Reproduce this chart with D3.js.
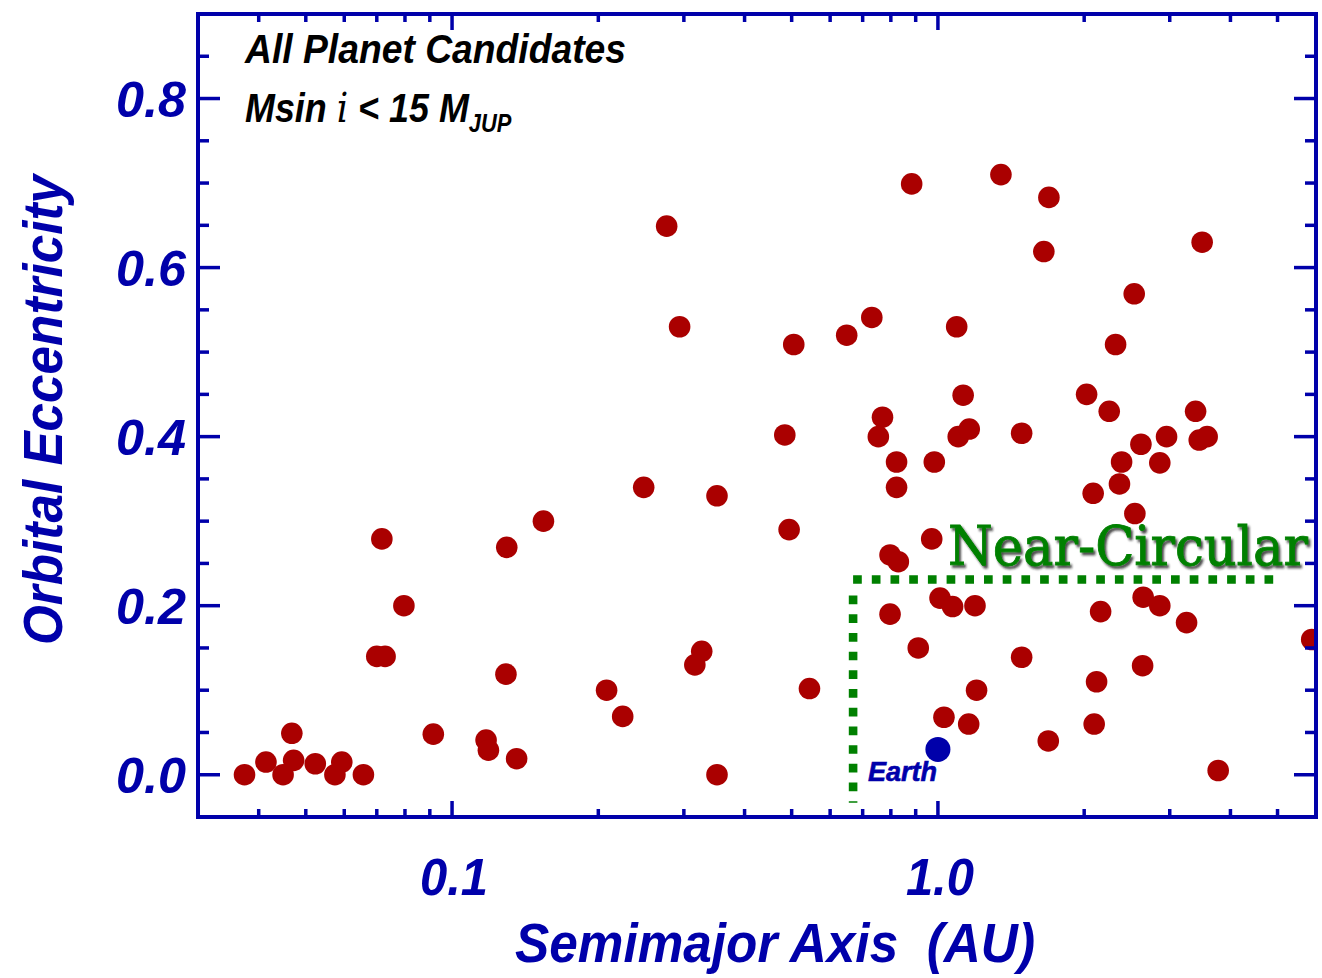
<!DOCTYPE html>
<html>
<head>
<meta charset="utf-8">
<script src="https://cdn.jsdelivr.net/npm/d3@7"></script>
<style>
  html, body { margin: 0; padding: 0; background: #ffffff; }
  svg { display: block; }
  text { font-family: "Liberation Sans", Arial, Helvetica, sans-serif; }
</style>
</head>
<body>
<svg id="chart" width="1322" height="978"></svg>
<script>
// Semimajor axis (AU) and orbital eccentricity of the planet candidates
const semimajorAxis = [
  0.0374, 0.0414, 0.0449, 0.0468, 0.0472, 0.0523, 0.0574, 0.0593, 0.0657,
  0.0717, 0.0700, 0.0728, 0.0796, 0.0915, 0.1175, 0.1188, 0.1296, 0.1291,
  0.1358, 0.1542, 0.208, 0.2245, 0.248, 0.2765, 0.294, 0.3265, 0.316,
  0.351, 0.351, 0.484, 0.494, 0.505, 0.544, 0.649, 0.731, 0.769, 0.754,
  0.797, 0.829, 0.822, 0.822, 0.797, 0.883, 0.911, 0.971, 0.983, 1.010,
  1.072, 1.029, 1.093, 1.127, 1.101, 1.160, 1.157, 1.192, 1.201, 1.348,
  1.487, 1.487, 1.652, 1.692, 1.687, 2.023, 2.087, 2.097, 2.121, 2.162,
  2.252, 2.321, 2.364, 2.388, 2.535, 2.543, 2.617, 2.645, 2.862, 2.638,
  2.862, 2.955, 3.249, 3.391, 3.498, 3.450, 3.582, 3.774, 5.88
];
const eccentricity = [
  0.000, 0.015, 0.000, 0.049, 0.017, 0.013, 0.000, 0.015, 0.000,
  0.279, 0.140, 0.140, 0.200, 0.048, 0.041, 0.029, 0.269, 0.119,
  0.019, 0.300, 0.100, 0.069, 0.340, 0.649, 0.530, 0.146, 0.130,
  0.330, 0.000, 0.402, 0.290, 0.509, 0.102, 0.520, 0.541, 0.423, 0.400,
  0.260, 0.252, 0.370, 0.340, 0.190, 0.699, 0.150, 0.279, 0.370, 0.209,
  0.199, 0.068, 0.530, 0.449, 0.400, 0.409, 0.060, 0.200, 0.100, 0.710,
  0.404, 0.139, 0.619, 0.683, 0.040, 0.450, 0.333, 0.060, 0.110, 0.193,
  0.430, 0.509, 0.344, 0.370, 0.569, 0.309, 0.391, 0.210, 0.200, 0.129,
  0.369, 0.400, 0.180, 0.430, 0.630, 0.396, 0.400, 0.005, 0.160
];

// Earth, for reference
const earthAxis = [1.0];
const earthEcc = [0.03];

// Axis ticks
const xMajorTicks = [0.1, 1.0];
const xTickLabels = ["0.1", "1.0"];
const xMinorTicks = [0.04, 0.05, 0.06, 0.07, 0.08, 0.09,
                     0.2, 0.3, 0.4, 0.5, 0.6, 0.7, 0.8, 0.9,
                     2, 3, 4, 5];
const yMajorTicks = [0.0, 0.2, 0.4, 0.6, 0.8];
const yTickLabels = ["0.0", "0.2", "0.4", "0.6", "0.8"];
const yMinorTicks = [0.05, 0.10, 0.15, 0.25, 0.30, 0.35, 0.45, 0.50, 0.55,
                     0.65, 0.70, 0.75, 0.85];

// "Near-Circular" region outline (AU, eccentricity)
const nearCircularAxis = [0.669, 5.13];
const nearCircularEcc = [0.231, 0.212, -0.033];

const svg = d3.select("#chart");
const frame = { left: 198, right: 1316, top: 14, bottom: 817 };

const x = d3.scaleLog().domain([0.03, 6]).range([frame.left, frame.right]);
const y = d3.scaleLinear().domain([-0.05, 0.9]).range([frame.bottom, frame.top]);

const axisBlue = "#0000aa";
const dotRed = "#aa0000";
const green = "#008000";

const defs = svg.append("defs");
defs.append("clipPath").attr("id", "plotClip")
  .append("rect")
  .attr("x", frame.left).attr("y", frame.top)
  .attr("width", frame.right - frame.left)
  .attr("height", frame.bottom - frame.top);

const shadow = defs.append("filter").attr("id", "labelShadow")
  .attr("x", "-3%").attr("y", "-15%").attr("width", "108%").attr("height", "140%");
shadow.append("feDropShadow")
  .attr("dx", 2).attr("dy", 2.5).attr("stdDeviation", 0.9)
  .attr("flood-color", "#1a1a1a").attr("flood-opacity", 0.8);

// Data points
const points = semimajorAxis.map((a, i) => ({ a, e: eccentricity[i] }));
const plot = svg.append("g").attr("clip-path", "url(#plotClip)");
plot.selectAll("circle.planet")
  .data(points)
  .join("circle")
  .attr("class", "planet")
  .attr("cx", d => x(d.a))
  .attr("cy", d => y(d.e))
  .attr("r", 10.8)
  .attr("fill", dotRed);

plot.selectAll("circle.earth")
  .data(earthAxis.map((a, i) => ({ a, e: earthEcc[i] })))
  .join("circle")
  .attr("class", "earth")
  .attr("cx", d => x(d.a))
  .attr("cy", d => y(d.e))
  .attr("r", 12.5)
  .attr("fill", axisBlue);

svg.append("text")
  .attr("x", x(earthAxis[0]) - 1)
  .attr("y", y(earthEcc[0]) + 32)
  .attr("text-anchor", "end")
  .attr("font-size", 27)
  .attr("font-weight", "bold")
  .attr("font-style", "italic")
  .attr("fill", axisBlue)
  .attr("stroke", axisBlue)
  .attr("stroke-width", 0.6)
  .attr("textLength", 69)
  .attr("lengthAdjust", "spacingAndGlyphs")
  .text("Earth");

// Frame
svg.append("rect")
  .attr("x", frame.left).attr("y", frame.top)
  .attr("width", frame.right - frame.left)
  .attr("height", frame.bottom - frame.top)
  .attr("fill", "none")
  .attr("stroke", axisBlue)
  .attr("stroke-width", 4);

// Inward ticks on all four sides
const tickG = svg.append("g").attr("stroke", axisBlue).attr("stroke-width", 3.5);
function xTicks(values, len) {
  values.forEach(v => {
    tickG.append("line").attr("x1", x(v)).attr("x2", x(v))
      .attr("y1", frame.bottom).attr("y2", frame.bottom - len);
    tickG.append("line").attr("x1", x(v)).attr("x2", x(v))
      .attr("y1", frame.top).attr("y2", frame.top + len);
  });
}
function yTicks(values, len) {
  values.forEach(v => {
    tickG.append("line").attr("y1", y(v)).attr("y2", y(v))
      .attr("x1", frame.left).attr("x2", frame.left + len);
    tickG.append("line").attr("y1", y(v)).attr("y2", y(v))
      .attr("x1", frame.right).attr("x2", frame.right - len);
  });
}
xTicks(xMajorTicks, 16);
xTicks(xMinorTicks, 8);
yTicks(yMajorTicks, 22);
yTicks(yMinorTicks, 11);

// Tick labels
svg.append("g").selectAll("text")
  .data(yMajorTicks)
  .join("text")
  .attr("x", 186)
  .attr("y", d => y(d) + 18)
  .attr("text-anchor", "end")
  .attr("font-size", 50)
  .attr("font-weight", "bold")
  .attr("font-style", "italic")
  .attr("fill", axisBlue)
  .attr("textLength", 70)
  .attr("lengthAdjust", "spacingAndGlyphs")
  .text((d, i) => yTickLabels[i]);

svg.append("g").selectAll("text")
  .data(xMajorTicks)
  .join("text")
  .attr("x", d => x(d) + 2)
  .attr("y", 895)
  .attr("text-anchor", "middle")
  .attr("font-size", 51)
  .attr("font-weight", "bold")
  .attr("font-style", "italic")
  .attr("fill", axisBlue)
  .attr("textLength", 68)
  .attr("lengthAdjust", "spacingAndGlyphs")
  .text((d, i) => xTickLabels[i]);

// Axis titles
svg.append("text")
  .attr("x", 775).attr("y", 962)
  .attr("text-anchor", "middle")
  .attr("font-size", 56)
  .attr("font-weight", "bold")
  .attr("font-style", "italic")
  .attr("fill", axisBlue)
  .attr("textLength", 520)
  .attr("lengthAdjust", "spacingAndGlyphs")
  .style("white-space", "pre")
  .text("Semimajor Axis  (AU)");

svg.append("text")
  .attr("transform", "translate(62,410) rotate(-90)")
  .attr("text-anchor", "middle")
  .attr("font-size", 56)
  .attr("font-weight", "bold")
  .attr("font-style", "italic")
  .attr("fill", axisBlue)
  .attr("textLength", 470)
  .attr("lengthAdjust", "spacingAndGlyphs")
  .text("Orbital Eccentricity");

// Sample description
svg.append("text")
  .attr("x", 245).attr("y", 63)
  .attr("font-size", 41)
  .attr("font-weight", "bold")
  .attr("font-style", "italic")
  .attr("fill", "#000")
  .attr("textLength", 381)
  .attr("lengthAdjust", "spacingAndGlyphs")
  .text("All Planet Candidates");

const massLine = svg.append("g").attr("transform", "translate(245,122) scale(0.875,1)")
  .append("text")
  .attr("font-size", 41)
  .attr("font-weight", "bold")
  .attr("font-style", "italic")
  .attr("fill", "#000");
massLine.append("tspan").text("Msin ");
massLine.append("tspan")
  .style("font-family", "\"DejaVu Serif\", \"Liberation Serif\", serif")
  .style("font-style", "italic")
  .style("font-weight", "normal")
  .text("i");
massLine.append("tspan").text(" < 15 M");
massLine.append("tspan").attr("font-size", 25).attr("dy", 10).text("JUP");

// Near-circular region outline
const dotted = svg.append("g")
  .attr("stroke", green)
  .attr("stroke-width", 8.6)
  .attr("stroke-dasharray", "8.7 10");
dotted.append("line")
  .attr("x1", x(nearCircularAxis[0])).attr("x2", x(nearCircularAxis[1]))
  .attr("y1", y(nearCircularEcc[0])).attr("y2", y(nearCircularEcc[0]));
dotted.append("line")
  .attr("x1", x(nearCircularAxis[0])).attr("x2", x(nearCircularAxis[0]))
  .attr("y1", y(nearCircularEcc[1])).attr("y2", y(nearCircularEcc[2]));

// Region label with a dark drop shadow; fitted to its width with a
// horizontal scale so the glyph run stays inside the page
const labelWidth = 360;
const labelG = svg.append("g").attr("transform", "translate(948,565)");
const regionLabel = labelG.append("text")
  .attr("x", 0).attr("y", 0)
  .style("font-family", "\"DejaVu Serif\", \"Liberation Serif\", serif")
  .attr("font-size", 51)
  .attr("fill", green)
  .attr("stroke", green)
  .attr("stroke-width", 0.8)
  .attr("filter", "url(#labelShadow)")
  .text("Near-Circular");
const naturalWidth = regionLabel.node().getComputedTextLength();
labelG.attr("transform",
  `translate(948,565) scale(${labelWidth / naturalWidth},1.08)`);
</script>
</body>
</html>
